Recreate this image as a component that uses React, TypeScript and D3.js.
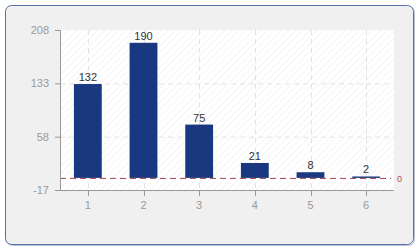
import React from "react";
import * as d3 from "d3";

const categories = ["1", "2", "3", "4", "5", "6"];
const values = [132, 190, 75, 21, 8, 2];
const yTicks = [-17, 58, 133, 208];
const yDomain = [-17, 208];

const W = 420;
const H = 250;
const plot = { left: 60, right: 394, top: 30, bottom: 190 };

export default function App() {
  const x = d3
    .scaleBand<string>()
    .domain(categories)
    .range([plot.left, plot.right])
    .paddingInner(0.5)
    .paddingOuter(0.25);
  const xc = d3.scalePoint<string>().domain(categories).range([plot.left, plot.right]).padding(0.5);
  const y = d3.scaleLinear().domain(yDomain).range([plot.bottom, plot.top]);
  const font = "Tahoma, 'Liberation Sans', Arial, sans-serif";
  const y0 = y(0);

  return (
    <svg width={W} height={H} style={{ position: "absolute", left: 0, top: 0 }} fontFamily={font}>
      <defs>
        <pattern id="hatch" width="5" height="5" patternUnits="userSpaceOnUse" patternTransform="rotate(45)">
          <line x1="0" y1="0" x2="0" y2="5" stroke="#f0f0f0" strokeWidth="1.5" />
        </pattern>
      </defs>
      <rect x={0} y={0} width={W} height={H} fill="#ffffff" />
      <rect x={6.5} y={6.5} width={408} height={239} rx={6} fill="none" stroke="#b8c0d8" strokeWidth={1} />
      <rect x={5.5} y={5.5} width={408} height={239} rx={6} fill="#f0f0f0" stroke="#5a6ea8" strokeWidth={1} />
      <rect x={plot.left} y={plot.top} width={plot.right - plot.left} height={plot.bottom - plot.top} fill="#ffffff" />
      <rect x={plot.left} y={plot.top} width={plot.right - plot.left} height={plot.bottom - plot.top} fill="url(#hatch)" />
      {yTicks.slice(1, -1).map((t) => (
        <line key={"gy" + t} x1={plot.left} x2={plot.right} y1={y(t) + 0.5} y2={y(t) + 0.5} stroke="#e2e2e2" strokeDasharray="5,4" />
      ))}
      {categories.map((c) => (
        <line key={"gx" + c} x1={Math.round(xc(c)!) + 0.5} x2={Math.round(xc(c)!) + 0.5} y1={plot.top} y2={plot.bottom} stroke="#e2e2e2" strokeDasharray="5,4" />
      ))}
      {values.map((v, i) => {
        const c = categories[i];
        const bx = x(c)!;
        const top = y(Math.max(v, 0));
        return (
          <g key={"b" + c}>
            <rect x={bx} y={top} width={x.bandwidth()} height={y0 - top} fill="#1a3880" />
            <text x={bx + x.bandwidth() / 2} y={top - 3} textAnchor="middle" fontSize={11} fill="#333333">
              {v}
            </text>
          </g>
        );
      })}
      <line x1={plot.left} x2={plot.right - 3} y1={y0 + 0.5} y2={y0 + 0.5} stroke="#a24452" strokeDasharray="6,4" />
      <text x={plot.right + 3} y={y0 + 4} fontSize={9} fill="#b04a5a">0</text>
      <line x1={plot.left + 0.5} x2={plot.left + 0.5} y1={plot.top} y2={plot.bottom} stroke="#999999" />
      <line x1={plot.left - 5} x2={plot.right} y1={plot.bottom + 0.5} y2={plot.bottom + 0.5} stroke="#999999" />
      {yTicks.map((t) => (
        <g key={"ty" + t}>
          <line x1={plot.left - 5} x2={plot.left} y1={y(t) + 0.5} y2={y(t) + 0.5} stroke="#999999" />
          <text x={plot.left - 11} y={y(t) + 4} textAnchor="end" fontSize={11} fill="#999999">
            {t}
          </text>
        </g>
      ))}
      {categories.map((c) => (
        <g key={"tx" + c}>
          <line x1={Math.round(xc(c)!) + 0.5} x2={Math.round(xc(c)!) + 0.5} y1={plot.bottom} y2={plot.bottom + 6} stroke="#999999" />
          <text x={xc(c)!} y={plot.bottom + 19} textAnchor="middle" fontSize={11} fill="#999999">
            {c}
          </text>
        </g>
      ))}
    </svg>
  );
}
